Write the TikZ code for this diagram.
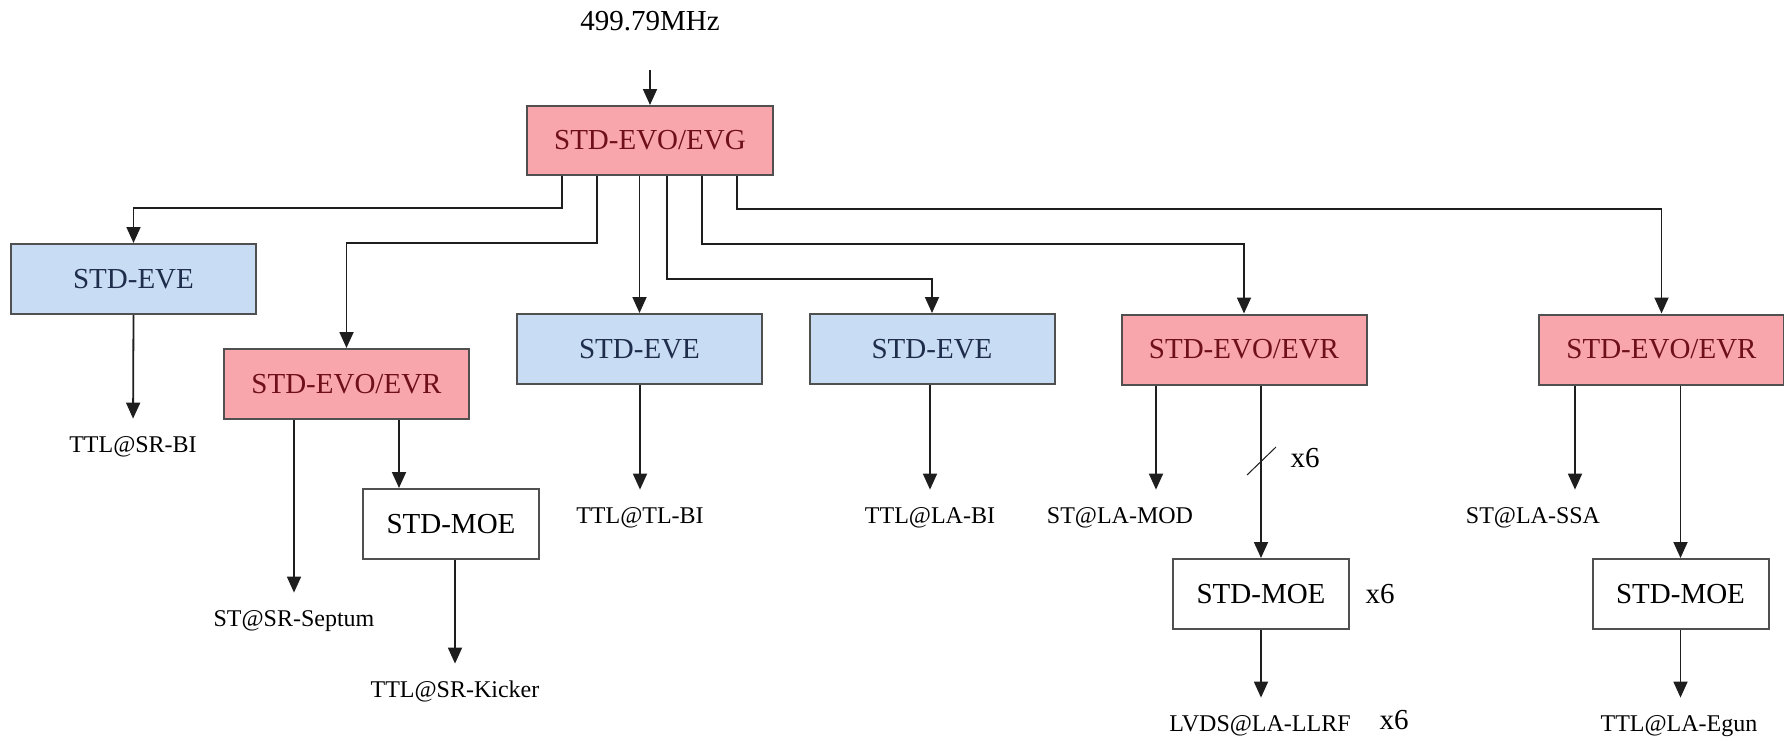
\documentclass[tikz,border=0pt]{standalone}
\usepackage{fontspec}
\setmainfont{Liberation Serif}
\usetikzlibrary{arrows.meta}
\definecolor{evored}{RGB}{248,166,172}
\definecolor{evoredtext}{RGB}{110,15,25}
\definecolor{eveblue}{RGB}{200,220,243}
\definecolor{evebluetext}{RGB}{30,45,75}
\definecolor{boxline}{RGB}{80,80,80}
\definecolor{conline}{RGB}{30,30,30}
\begin{document}
\begin{tikzpicture}[x=0.5pt,y=-0.5pt,
  boxbase/.style={draw=boxline, line width=1pt, minimum height=35pt, inner sep=0pt,
    font=\fontsize{14.5pt}{16pt}\selectfont},
  redbox/.style={boxbase, fill=evored, text=evoredtext, minimum width=122.5pt},
  bluebox/.style={boxbase, fill=eveblue, text=evebluetext, minimum width=122.5pt},
  moebox/.style={boxbase, fill=white, text=black, minimum width=88pt},
  lbl/.style={inner sep=0pt, text height=9pt, text depth=3pt, font=\fontsize{12pt}{14pt}\selectfont},
  big/.style={inner sep=0pt, font=\fontsize{14.5pt}{16pt}\selectfont},
  arr/.style={draw=conline, line width=0.9pt, -{Triangle[width=7pt,length=8pt]}},
  tolbl/.style={arr, shorten >=7.5pt}
]
\useasboundingbox (0,0) rectangle (1784,740);

% top
\node[big] (freq) at (650,21) {499.79MHz};
\coordinate (in) at (650,70);
\node[redbox, minimum width=123pt, minimum height=34.5pt] (evg) at (650,140.5) {STD-EVO/EVG};
\draw[arr] (in) -- (evg.north);

% second row
\node[bluebox] (eve1) at (133.5,279) {STD-EVE};
\node[redbox]  (evr1) at (346.5,384) {STD-EVO/EVR};
\node[bluebox] (eve2) at (639.5,349) {STD-EVE};
\node[bluebox] (eve3) at (932,349) {STD-EVE};
\node[redbox]  (evr2) at (1244,349.5) {STD-EVO/EVR};
\node[redbox]  (evr3) at (1661.5,349.5) {STD-EVO/EVR};

% MOE boxes
\node[moebox] (moe1) at (451,524) {STD-MOE};
\node[moebox] (moe2) at (1261,594) {STD-MOE};
\node[moebox] (moe3) at (1680.5,594) {STD-MOE};

% labels
\node[lbl] (l1) at (133,446) {TTL@SR-BI};
\node[lbl] (l2) at (294,620) {ST@SR-Septum};
\node[lbl] (l3) at (455,691) {TTL@SR-Kicker};
\node[lbl] (l4) at (640,517) {TTL@TL-BI};
\node[lbl] (l5) at (930,517) {TTL@LA-BI};
\node[lbl] (l6) at (1120,517) {ST@LA-MOD};
\node[lbl] (l7) at (1260,725) {LVDS@LA-LLRF};
\node[lbl] (l8) at (1533,517) {ST@LA-SSA};
\node[lbl] (l9) at (1679,725) {TTL@LA-Egun};

\node[big] (x6a) at (1305,458) {x6};
\node[big] (x6b) at (1380,594) {x6};
\node[big] (x6c) at (1394,720) {x6};

% connectors from EVG
\coordinate (o1) at (562,208);
\coordinate (o2) at (597,243);
\coordinate (o4) at (667,279);
\coordinate (o5) at (702,244);
\coordinate (o6) at (737,209);
\draw[arr] (evg.south -| o1) -- (o1) -| (eve1.north);
\draw[arr] (evg.south -| o2) -- (o2) -| (evr1.north);
\draw[arr] (evg.south -| eve2.north) -- (eve2.north);
\draw[arr] (evg.south -| o4) -- (o4) -| (eve3.north);
\draw[arr] (evg.south -| o5) -- (o5) -| (evr2.north);
\draw[arr] (evg.south -| o6) -- (o6) -| (evr3.north);

% outputs
\draw[tolbl] (eve1.south) -- (l1.north);
\coordinate (c1) at (294,0);
\coordinate (c2) at (399,0);
\coordinate (c3) at (455,0);
\draw[tolbl] (evr1.south -| c1) -- (l2.north);
\draw[arr] (evr1.south -| c2) -- (moe1.north -| c2);
\draw[tolbl] (moe1.south -| c3) -- (l3.north);
\draw[tolbl] (eve2.south -| l4.north) -- (l4.north);
\draw[tolbl] (eve3.south -| l5.north) -- (l5.north);

\coordinate (c4) at (1156,0);
\draw[tolbl] (evr2.south -| c4) -- (c4 |- l6.north);
\draw[arr] (evr2.south -| moe2.north) -- (moe2.north);
\draw[tolbl] (moe2.south) -- (moe2.south |- l7.north);
\coordinate (s1) at (1247,475);
\coordinate (s2) at (1276,447);
\draw[conline, line width=0.5pt] (s1) -- (s2);

\coordinate (c5) at (1575,0);
\draw[tolbl] (evr3.south -| c5) -- (c5 |- l8.north);
\draw[arr] (evr3.south -| moe3.north) -- (moe3.north);
\draw[tolbl] (moe3.south) -- (moe3.south |- l9.north);
\end{tikzpicture}
\end{document}
